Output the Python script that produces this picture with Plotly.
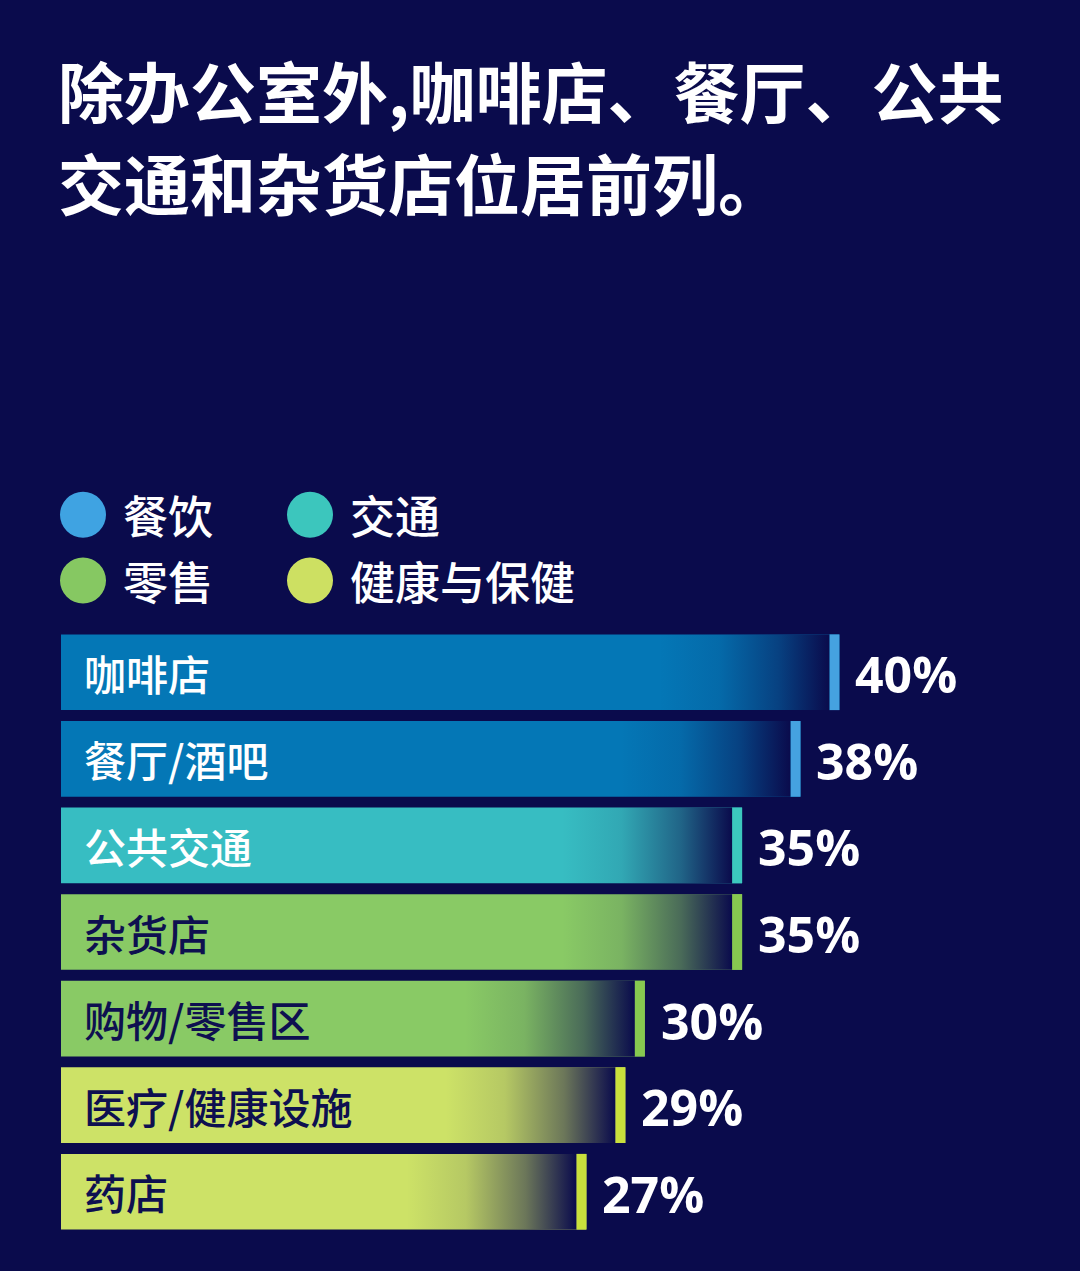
import plotly.graph_objects as go

# data
categories = ['咖啡店', '餐厅/酒吧', '公共交通', '杂货店', '购物/零售区', '医疗/健康设施', '药店']
values = [40, 38, 35, 35, 30, 29, 27]
groups = ['餐饮', '餐饮', '交通', '零售', '零售', '健康与保健', '健康与保健']
pct_labels = ['40%', '38%', '35%', '35%', '30%', '29%', '27%']
legend_names = ['餐饮', '交通', '零售', '健康与保健']

title_lines = ['除办公室外,咖啡店、餐厅、公共', '交通和杂货店位居前列。']

# colours
bg = '#0a0b4c'
bar_col = {'餐饮': '#0477b6', '交通': '#37bdc2', '零售': '#89ca65', '健康与保健': '#cde267'}
cap_col = {'餐饮': '#45a2e0', '交通': '#3cc8be', '零售': '#87c950', '健康与保健': '#c9e03c'}
dot_col = {'餐饮': '#3fa3e2', '交通': '#3cc6bd', '零售': '#86c862', '健康与保健': '#cde062'}
text_col = {'餐饮': 'white', '交通': 'white', '零售': '#0e1050', '健康与保健': '#0e1050'}

# layout in pixels
W, H = 1080, 1271
ml, mr, mt, mb = 61, 40, 628.5, 35.5
pw, ph = W - ml - mr, H - mt - mb
xmax = pw / 19.46          # ~19.5 px per percent point
bar_w = 0.874
cap_w = 10 / 19.46
fade_w = 170 / 19.46
cjk = 'Noto Sans CJK SC'


def px(xp):
    return (xp - ml) / pw


def py(yp):
    return (H - mb - yp) / ph


fig = go.Figure()

for i, (cat, v, g) in enumerate(zip(categories, values, groups)):
    # main bar
    fig.add_trace(go.Bar(x=[v], y=[i], orientation='h', width=bar_w,
                         marker=dict(color=bar_col[g], line=dict(width=0)),
                         hoverinfo='skip'))
    # fade towards the end of the bar
    x0, x1 = v - cap_w - fade_w, v - cap_w
    hw = bar_w / 2
    fig.add_trace(go.Scatter(x=[x0, x1, x1, x0, x0], y=[i - hw, i - hw, i + hw, i + hw, i - hw],
                             mode='none', fill='toself',
                             fillgradient=dict(type='horizontal',
                                               colorscale=[[0, 'rgba(10,11,76,0)'],
                                                           [0.35, 'rgba(10,11,76,0.12)'],
                                                           [0.7, 'rgba(10,11,76,0.5)'],
                                                           [1, 'rgba(10,11,76,1)']]),
                             hoverinfo='skip'))
    # bright end cap
    fig.add_trace(go.Bar(x=[cap_w], base=[v - cap_w], y=[i], orientation='h', width=bar_w,
                         marker=dict(color=cap_col[g], line=dict(width=0)),
                         hoverinfo='skip'))
    # label inside bar
    fig.add_annotation(x=0, y=i, text=cat, showarrow=False, xanchor='left', yanchor='middle',
                       xshift=21, font=dict(family=cjk, size=42, color=text_col[g], weight=500))
    # percentage
    fig.add_annotation(x=v, y=i, text=pct_labels[i], showarrow=False, xanchor='left',
                       yanchor='middle', xshift=14, yshift=-2,
                       font=dict(family='Open Sans', size=50, color='white', weight='bold'))

# title
for k, line in enumerate(title_lines):
    fig.add_annotation(xref='paper', yref='paper', x=px(56), y=py(88 + k * 92), text=line,
                       showarrow=False, xanchor='left', yanchor='middle',
                       font=dict(family=cjk, size=66, color='white', weight='bold'))

# legend
shapes = []
leg_x = [83, 310, 83, 310]
leg_y = [514, 514, 580, 580]
r = 23
for name, cx, cy in zip(legend_names, leg_x, leg_y):
    shapes.append(dict(type='circle', xref='paper', yref='paper',
                       x0=px(cx - r), x1=px(cx + r), y0=py(cy + r), y1=py(cy - r),
                       fillcolor=dot_col[name], line=dict(width=0)))
    fig.add_annotation(xref='paper', yref='paper', x=px(cx + 38), y=py(cy), text=name,
                       showarrow=False, xanchor='left', yanchor='middle',
                       font=dict(family=cjk, size=45, color='white', weight=500))

fig.update_layout(
    width=W, height=H,
    margin=dict(l=ml, r=mr, t=mt, b=mb),
    paper_bgcolor=bg, plot_bgcolor=bg,
    showlegend=False, barmode='overlay',
    xaxis=dict(range=[0, xmax], visible=False, fixedrange=True),
    yaxis=dict(range=[6.5, -0.5], visible=False, fixedrange=True),
    shapes=shapes,
)

fig.write_html("out.html", config={'displayModeBar': False},
               post_script="document.body.style.margin='0';document.body.style.background='" + bg + "';")
